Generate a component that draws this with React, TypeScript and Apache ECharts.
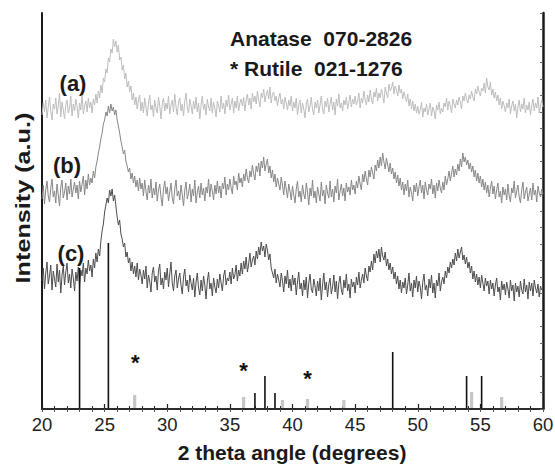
import React, { useEffect, useRef } from "react";
import * as echarts from "echarts";

// 2-theta sampling of the traces (degrees)
const THETA_START = 20;
const THETA_STEP = 0.1;

// Trace intensities (a.u., as stacked in the figure), one value per 0.1 degree from 20 to 60
const traceA = [
  294,306,297,309,291,302,312,298,289,305,
  300,311,295,303,316,292,307,299,290,304,
  309,296,301,313,293,305,298,310,302,291,
  306,299,314,295,303,308,297,311,301,307,
  296,310,304,315,306,318,311,324,316,331,
  327,340,336,351,347,360,356,370,362,368,
  357,364,349,352,339,344,330,336,322,328,
  317,323,309,316,304,312,300,309,314,298,
  307,296,311,302,293,306,314,299,304,292,
  309,301,296,312,303,290,305,311,298,306,
  300,313,295,304,309,297,315,302,294,307,
  311,298,305,293,308,316,301,296,310,303,
  295,308,300,312,297,306,290,304,313,299,
  305,294,310,302,298,311,296,307,301,292,
  308,303,297,313,300,306,295,309,302,314,
  299,305,311,296,308,301,313,298,306,310,
  303,312,298,309,315,304,311,300,316,307,
  313,305,318,309,302,316,311,320,307,314,
  319,310,322,306,315,317,308,313,303,311,
  316,305,310,300,312,306,299,309,303,313,
  298,307,301,311,294,304,309,296,306,300,
  291,305,310,297,303,312,299,294,307,301,
  309,296,304,313,300,295,308,302,311,297,
  305,312,299,307,294,310,303,315,301,306,
  298,309,304,312,300,307,314,302,310,305,
  313,304,308,316,301,311,306,318,309,304,
  314,307,319,310,305,317,312,321,308,316,
  311,320,314,306,322,316,311,325,318,321,
  327,315,323,319,313,324,316,320,310,317,
  312,307,315,303,310,300,308,298,305,296,
  303,295,299,307,292,301,297,305,294,300,
  306,293,302,298,290,304,299,307,295,301,
  297,306,302,311,299,308,303,296,310,305,
  301,309,304,312,307,300,313,308,316,310,
  306,314,310,318,312,308,320,315,323,317,
  313,321,318,326,316,331,322,319,327,314,
  320,311,317,308,314,304,311,300,308,303,
  297,306,301,310,295,303,308,298,305,291,
  302,309,297,305,300,311,296,304,299,307,
  294,303,310,298,306,301,312,296,304,309,
  302,
];
const traceB = [
  210,224,205,219,228,213,207,221,230,212,
  218,206,225,214,203,222,229,211,217,226,
  209,223,215,230,212,220,227,216,224,210,
  228,217,225,233,214,229,220,235,224,231,
  226,238,231,242,248,256,262,270,276,285,
  289,297,293,303,296,305,298,302,294,299,
  289,283,276,268,262,255,259,248,243,237,
  241,230,236,226,233,222,229,218,231,220,
  226,213,229,218,209,224,216,230,211,221,
  214,227,208,219,225,212,203,220,228,215,
  222,208,217,226,211,205,220,229,213,218,
  209,224,214,203,219,227,210,216,225,207,
  220,213,229,206,217,223,211,226,214,221,
  208,222,216,230,212,225,218,209,224,215,
  228,216,223,211,226,220,232,214,225,219,
  230,221,215,233,224,228,219,236,226,231,
  222,235,228,240,231,226,238,232,244,235,
  229,243,237,246,233,248,241,252,238,245,
  250,236,243,231,239,227,235,222,231,225,
  219,232,224,214,228,220,211,225,218,209,
  223,214,206,220,228,212,218,207,224,215,
  210,226,217,204,221,213,229,211,218,206,
  222,215,208,227,213,219,205,224,216,211,
  228,212,220,207,223,216,230,209,218,225,
  213,221,208,226,217,222,214,229,219,224,
  215,228,221,233,225,219,235,227,238,230,
  224,239,232,242,236,230,244,238,249,241,
  252,243,256,247,240,251,244,237,246,235,
  241,230,237,226,234,223,231,219,227,214,
  225,218,229,212,222,216,208,224,217,226,
  213,222,229,216,224,210,227,219,214,225,
  220,230,215,224,211,226,218,229,221,216,
  227,219,233,224,230,238,228,236,243,232,
  240,234,245,238,250,242,256,247,252,244,
  249,240,246,237,243,232,239,228,236,226,
  233,222,230,219,227,216,224,212,221,228,
  215,223,210,219,226,212,218,206,222,214,
  220,209,225,213,207,221,216,228,211,218,
  224,212,206,219,227,210,217,222,208,215,
  221,209,226,214,219,207,223,216,212,220,
  215,
];
const traceC = [
  128,141,120,136,147,125,133,144,119,138,
  130,122,145,127,139,116,134,143,124,137,
  146,126,135,121,140,131,118,137,128,142,
  123,139,133,146,127,141,135,149,138,144,
  132,150,141,156,147,160,153,168,178,185,
  197,204,211,206,219,213,220,208,214,203,
  192,184,189,175,170,162,166,152,157,146,
  151,138,147,135,143,132,146,129,140,134,
  125,139,130,143,121,134,128,117,136,142,
  127,133,119,138,145,124,131,120,137,129,
  141,122,135,147,126,118,133,139,121,130,
  136,124,115,132,140,123,129,117,134,126,
  119,131,112,127,136,121,114,129,118,133,
  124,110,128,137,120,126,113,131,122,116,
  130,121,135,126,118,133,139,124,131,128,
  137,125,141,130,134,144,128,139,133,146,
  135,148,140,152,137,145,156,142,149,153,
  144,158,150,162,154,167,158,163,152,165,
  159,149,155,141,136,131,140,126,135,129,
  122,136,128,117,133,125,139,121,130,118,
  134,124,131,114,127,137,120,126,113,129,
  119,132,111,126,135,120,116,130,123,113,
  128,118,131,109,124,136,119,127,112,125,
  131,115,122,134,117,128,110,126,133,119,
  114,129,121,135,118,125,111,130,122,127,
  116,132,124,137,121,129,135,126,141,133,
  128,143,137,148,139,155,146,158,151,160,
  147,162,153,149,157,143,150,139,146,135,
  142,130,137,125,133,120,129,116,127,121,
  131,115,124,136,118,126,112,129,121,133,
  117,128,122,110,127,135,119,124,113,130,
  121,134,116,126,111,129,123,136,118,127,
  132,125,138,131,142,136,147,141,150,144,
  156,148,160,151,157,162,149,154,145,152,
  141,147,136,143,130,138,127,135,124,132,
  121,134,126,118,131,123,128,115,129,120,
  126,113,124,131,117,122,109,128,119,125,
  114,127,120,111,129,118,124,108,126,117,
  123,112,128,119,115,130,117,124,110,127,
  118,126,113,129,121,116,125,112,123,119,
  121,
];

// Reference patterns: [2theta, relative height]
const anataseSticks = [
  [23.0, 141], [25.3, 166], [37.0, 16], [37.8, 33], [38.6, 16],
  [48.0, 57], [53.9, 33], [55.1, 33],
];
const rutileSticks = [
  [27.4, 14], [36.1, 12], [39.2, 9], [41.2, 10], [44.1, 9], [54.3, 17], [56.7, 12],
];
// Rutile markers "*": [2theta, height]
const rutileMarks = [
  [27.45, 52], [36.1, 44], [41.2, 36],
];

const xTicks = [20, 25, 30, 35, 40, 45, 50, 55, 60];
const traceLabels = ["(a)", "(b)", "(c)"];
const legendLines = ["Anatase  070-2826", "* Rutile  021-1276"];

const FONT = "'Liberation Sans', Arial, Helvetica, sans-serif";

function toPairs(vals: number[]) {
  return vals.map((v, i) => [+(THETA_START + i * THETA_STEP).toFixed(2), v]);
}

function stickSeries(data: number[][], color: string, width: number) {
  return {
    type: "custom",
    xAxisIndex: 0,
    yAxisIndex: 0,
    data,
    z: 5,
    renderItem: (_p: any, api: any) => {
      const x = api.value(0);
      const h = api.value(1);
      const p0 = api.coord([x, 0]);
      const p1 = api.coord([x, h]);
      return {
        type: "line",
        shape: { x1: p0[0], y1: p0[1] - 1, x2: p1[0], y2: p1[1] },
        style: { stroke: color, lineWidth: width },
      };
    },
  };
}

export default function App() {
  const ref = useRef<HTMLDivElement>(null);
  useEffect(() => {
    if (!ref.current) return;
    const chart = echarts.init(ref.current, null, { renderer: "svg" });
    const lineSeries = (vals: number[], color: string) => ({
      type: "line",
      xAxisIndex: 0,
      yAxisIndex: 0,
      data: toPairs(vals),
      showSymbol: false,
      symbol: "none",
      lineStyle: { color, width: 1 },
      z: 3,
    });
    chart.setOption({
      animation: false,
      backgroundColor: "#ffffff",
      grid: { left: 42, right: 12, top: 13, bottom: 57, containLabel: false, outerBoundsMode: "none" },
      xAxis: [
        {
          type: "value",
          position: "bottom",
          min: 20,
          max: 60,
          interval: 5,
          axisLine: { show: true, lineStyle: { color: "#1a1a1a", width: 2 } },
          axisTick: { show: true, inside: true, length: 5, lineStyle: { color: "#222", width: 1.2 } },
          minorTick: { show: true, splitNumber: 5, length: 3, lineStyle: { color: "#222", width: 1 } },
          axisLabel: {
            show: true,
            margin: 6,
            fontSize: 18.5,
            fontFamily: FONT,
            color: "#222",
            formatter: (v: number) => (xTicks.includes(v) ? String(v) : ""),
          },
          splitLine: { show: false },
        },
        {
          type: "value",
          position: "top",
          min: 20,
          max: 60,
          interval: 1,
          axisLine: { show: true, lineStyle: { color: "#333", width: 1.5 } },
          axisTick: { show: true, inside: true, length: 3, lineStyle: { color: "#555", width: 1 } },
          axisLabel: { show: false },
          splitLine: { show: false },
        },
      ],
      yAxis: [
        {
          type: "value",
          position: "left",
          min: 0,
          max: 396,
          axisLine: { show: true, lineStyle: { color: "#1a1a1a", width: 2 } },
          axisTick: { show: false },
          axisLabel: { show: false },
          splitLine: { show: false },
        },
        {
          type: "value",
          position: "right",
          min: 0,
          max: 396,
          interval: 16.5,
          axisLine: { show: true, lineStyle: { color: "#1a1a1a", width: 2.5 } },
          axisTick: { show: true, inside: true, length: 3, lineStyle: { color: "#666", width: 1 } },
          axisLabel: { show: false },
          splitLine: { show: false },
        },
      ],
      series: [
        lineSeries(traceA, "#bdbdbd"),
        lineSeries(traceB, "#878787"),
        lineSeries(traceC, "#4d4d4d"),
        stickSeries(anataseSticks, "#111111", 1.6),
        stickSeries(rutileSticks, "#c6c6c6", 3.2),
        {
          type: "custom",
          xAxisIndex: 0,
          yAxisIndex: 0,
          data: rutileMarks,
          z: 6,
          renderItem: (_p: any, api: any) => {
            const p = api.coord([api.value(0), api.value(1)]);
            return {
              type: "text",
              x: p[0],
              y: p[1] + 5,
              style: {
                text: "*",
                fontSize: 22,
                fontWeight: "bold",
                fontFamily: FONT,
                fill: "#111",
                textAlign: "center",
                textVerticalAlign: "middle",
              },
            };
          },
        },
      ],
      graphic: [
        {
          type: "text",
          x: 230,
          y: 38,
          style: { text: legendLines[0], font: `bold 21px ${FONT}`, fill: "#1a1a1a", textAlign: "left", textVerticalAlign: "middle" },
        },
        {
          type: "text",
          x: 230,
          y: 68,
          style: { text: legendLines[1], font: `bold 21px ${FONT}`, fill: "#1a1a1a", textAlign: "left", textVerticalAlign: "middle" },
        },
        {
          type: "text",
          x: 73,
          y: 83,
          style: { text: traceLabels[0], font: `bold 22px ${FONT}`, fill: "#1a1a1a", textAlign: "center", textVerticalAlign: "middle" },
        },
        {
          type: "text",
          x: 67,
          y: 165,
          style: { text: traceLabels[1], font: `bold 22px ${FONT}`, fill: "#1a1a1a", textAlign: "center", textVerticalAlign: "middle" },
        },
        {
          type: "text",
          x: 71,
          y: 253,
          style: { text: traceLabels[2], font: `bold 22px ${FONT}`, fill: "#1a1a1a", textAlign: "center", textVerticalAlign: "middle" },
        },
        {
          type: "text",
          x: 23,
          y: 198,
          rotation: Math.PI / 2,
          scaleX: 1.2,
          style: { text: "Intensity (a.u.)", font: `bold 21px ${FONT}`, fill: "#1a1a1a", textAlign: "center", textVerticalAlign: "middle" },
        },
        {
          type: "text",
          x: 292,
          y: 452,
          style: { text: "2 theta angle (degrees)", font: `bold 21px ${FONT}`, fill: "#1a1a1a", textAlign: "center", textVerticalAlign: "middle" },
        },
      ],
    });
    return () => chart.dispose();
  }, []);
  return (
    <div
      ref={ref}
      style={{ position: "fixed", left: 0, top: 0, width: 555, height: 466, background: "#fff" }}
    />
  );
}
